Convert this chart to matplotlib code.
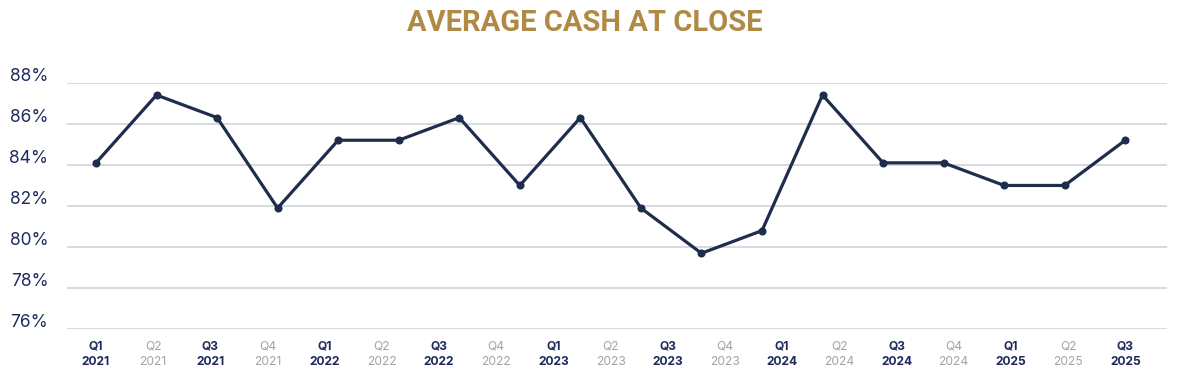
import matplotlib
matplotlib.use("Agg")
import matplotlib.pyplot as plt
import matplotlib.transforms as mtransforms
import numpy as np

quarters = ["Q1", "Q2", "Q3", "Q4", "Q1", "Q2", "Q3", "Q4", "Q1", "Q2",
            "Q3", "Q4", "Q1", "Q2", "Q3", "Q4", "Q1", "Q2", "Q3"]
years = ["2021", "2021", "2021", "2021", "2022", "2022", "2022", "2022",
         "2023", "2023", "2023", "2023", "2024", "2024", "2024", "2024",
         "2025", "2025", "2025"]
# 18 readings, drawn evenly across the 19 quarter labels as in the source
cash_pct = [84.1, 87.4, 86.3, 81.9, 85.2, 85.2, 86.3, 83.0, 86.3,
            81.9, 79.7, 80.8, 87.4, 84.1, 84.1, 83.0, 83.0, 85.2]
yticks = [76, 78, 80, 82, 84, 86, 88]

navy = "#1f2d4d"
label_navy = "#1e2b5c"
muted = "#a3a3a7"
grid_col = "#d6d9e0"
gold = "#b08a45"

plt.rcParams["font.family"] = ["Inter", "DejaVu Sans"]

fig = plt.figure(figsize=(12, 3.79), dpi=100)
ax = fig.add_axes([67 / 1200, 1 - 329.3 / 379, 1100 / 1200, (329.3 - 82.7) / 379])

n_lab = len(quarters)
xs = np.linspace(0, n_lab - 1, len(cash_pct))
ax.plot(xs, cash_pct, color=navy, lw=2.3, marker="o", ms=4.8,
        clip_on=False, zorder=3)

ax.set_xlim(-0.507, 18.73)
ax.set_ylim(76, 88)
ax.set_yticks(yticks)
ax.set_yticklabels([f"{v}%" for v in yticks], fontsize=12.5, color=label_navy)
ax.yaxis.grid(True, color=grid_col, lw=1.4)
ax.set_axisbelow(True)
for s in ax.spines.values():
    s.set_visible(False)
ax.tick_params(axis="y", length=0, pad=13.5)
ax.tick_params(axis="x", length=0, pad=8)

# labels sit slightly above their gridlines
off = mtransforms.ScaledTranslation(0, 6 / 72, fig.dpi_scale_trans)
for lab in ax.get_yticklabels():
    lab.set_transform(lab.get_transform() + off)

ax.set_xticks(range(n_lab))
ax.set_xticklabels([f"{q}\n{y}" for q, y in zip(quarters, years)],
                   fontsize=8.7, linespacing=1.45)
for lab, q in zip(ax.get_xticklabels(), quarters):
    if q in ("Q1", "Q3"):
        lab.set_color(label_navy)
        lab.set_fontweight("bold")
    else:
        lab.set_color(muted)

fig.text(0.487, 1 - 23 / 379, "AVERAGE CASH AT CLOSE", ha="center", va="center",
         fontsize=21, fontweight="bold", color=gold, family="Roboto")

fig.savefig("out.png", dpi=100, facecolor="white")
